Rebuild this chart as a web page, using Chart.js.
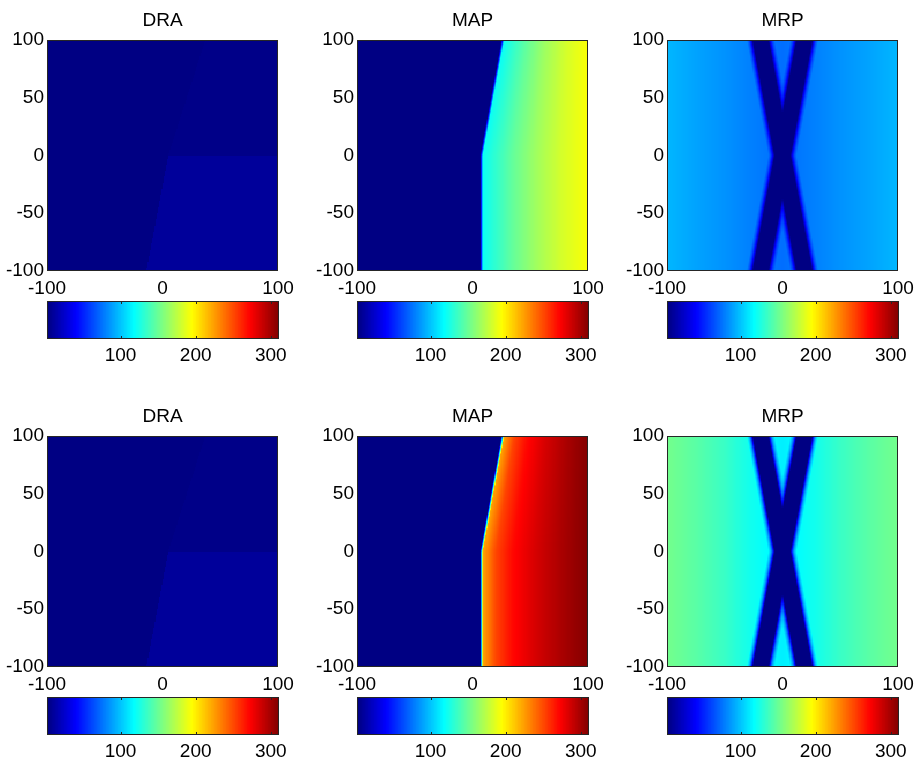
<!DOCTYPE html>
<html>
<head>
<meta charset="utf-8">
<script src="https://cdn.jsdelivr.net/npm/chart.js@4.4.1/dist/chart.umd.min.js"></script>
<style>
  html, body { margin: 0; padding: 0; background: #fff; }
  #fig { position: relative; width: 921px; height: 764px; overflow: hidden; }
  #fig canvas { position: absolute; }
</style>
</head>
<body>
<div id="fig"></div>
<script>
// ---- values ----
const panelTitles = ['DRA', 'MAP', 'MRP'];
const yTickValues = [-100, -50, 0, 50, 100];
const xTickValues = [-100, 0, 100];
const colorbarTicks = [100, 200, 300];
const colorLimits = [2, 311];

// DRA: three nearly flat dark regions split by a kinked edge
const draEdgeY = [-100, 0, 100];
const draEdgeX = [-14, 5, 37];
const draLeft = [3, 3];          // [top row, bottom row]
const draUpperRight = [4.5, 4.5];
const draLowerRight = [10, 10];

// MAP: flat left part, ramp to the right of a kinked edge
const mapEdgeY = [-100, 0, 100];
const mapEdgeX = [6.5, 6.5, 25];
const mapLeft = [3, 3];
const mapEdgeRamp = 2.5;         // units over which the edge rises
const mapU = [0, 0.05, 0.15, 0.3, 0.5, 0.75, 1];   // share of way from edge to x=100
const mapTopRow = [118, 123, 133, 148, 165, 182, 194];
const mapBottomRow = [215, 228, 252, 270, 284, 298, 310];

// MRP: two crossing dark bands on a background rising with |x|
const mrpBandY = [-100, 100];
const mrpBandA = [19, -19];
const mrpBandB = [-19, 19];
const mrpHalfWidth = 6.7;
const mrpBandValue = 3;
const mrpGlowDist = [0, 1, 2, 3.5, 5.5];
const mrpGlowFrac = [0, 0.3, 0.55, 0.8, 1];
const mrpAbsX = [0, 30, 50, 75, 100];
const mrpTopRow = [74, 80, 85, 90, 96];
const mrpBottomRow = [113, 124, 135, 145, 153];

// ---- layout ----
const FONT = { family: "'Liberation Sans', Arial, sans-serif", size: 19, lineHeight: '23px' };
const colLeft = [47, 357, 667];
const rowTop = [40, 436];
const plotSize = 231;
const cbGap = 261, cbHeight = 38, cbWidth = 232;
const cellW = 1, cellH = 1;

function interp(xs, ys, x) {
    if (x <= xs[0]) return ys[0];
    for (let i = 1; i < xs.length; i++) {
        if (x <= xs[i]) {
            const f = (x - xs[i - 1]) / (xs[i] - xs[i - 1]);
            return ys[i - 1] + f * (ys[i] - ys[i - 1]);
        }
    }
    return ys[ys.length - 1];
}

function jet(v) {
    const t = Math.min(1, Math.max(0, (v - colorLimits[0]) / (colorLimits[1] - colorLimits[0])));
    const c = (a) => Math.round(255 * Math.min(1, Math.max(0, a)));
    const r = c(Math.min(4 * t - 1.5, -4 * t + 4.5));
    const g = c(Math.min(4 * t - 0.5, -4 * t + 3.5));
    const b = c(Math.min(4 * t + 0.5, -4 * t + 2.5));
    return 'rgb(' + r + ',' + g + ',' + b + ')';
}

function draValue(x, y, row) {
    const xe = interp(draEdgeY, draEdgeX, y);
    if (x < xe) return draLeft[row];
    return y < 0 ? draLowerRight[row] : draUpperRight[row];
}

function mapValue(x, y, row) {
    const xe = interp(mapEdgeY, mapEdgeX, y);
    if (x < xe) return mapLeft[row];
    const prof = row === 0 ? mapTopRow : mapBottomRow;
    const p = interp(mapU, prof, (x - xe) / (100 - xe));
    const r = Math.min(1, (x - xe) / mapEdgeRamp);
    return mapLeft[row] + (p - mapLeft[row]) * r;
}

function mrpValue(x, y, row) {
    const ca = interp(mrpBandY, mrpBandA, y);
    const cb = interp(mrpBandY, mrpBandB, y);
    const d = Math.min(Math.abs(x - ca), Math.abs(x - cb)) - mrpHalfWidth;
    if (d <= 0) return mrpBandValue;
    const bg = interp(mrpAbsX, row === 0 ? mrpTopRow : mrpBottomRow, Math.abs(x));
    return mrpBandValue + (bg - mrpBandValue) * interp(mrpGlowDist, mrpGlowFrac, d);
}

const fields = [draValue, mapValue, mrpValue];

function buildCells(col, row) {
    const out = [];
    for (let x0 = -100; x0 < 100; x0 += cellW) {
        for (let y0 = -100; y0 < 100; y0 += cellH) {
            const cx = x0 + cellW / 2, cy = y0 + cellH / 2;
            out.push({ x: cx, y: cy, v: fields[col](cx, cy, row) });
        }
    }
    return out;
}

// draws every cell through the chart's own x/y scales
const cellPlugin = {
    id: 'cells',
    beforeDatasetsDraw(chart, args, opts) {
        const { ctx, chartArea: a, scales: { x, y } } = chart;
        ctx.save();
        ctx.beginPath();
        ctx.rect(a.left, a.top, a.width, a.height);
        ctx.clip();
        chart.data.datasets[0].data.forEach(c => {
            const x0 = Math.round(x.getPixelForValue(c.x - opts.w / 2));
            const x1 = Math.round(x.getPixelForValue(c.x + opts.w / 2));
            const y0 = Math.round(y.getPixelForValue(c.y + opts.h / 2));
            const y1 = Math.round(y.getPixelForValue(c.y - opts.h / 2));
            ctx.fillStyle = jet(c.v);
            ctx.fillRect(x0, y0, x1 - x0, y1 - y0);
        });
        ctx.restore();
    }
};

const framePlugin = {
    id: 'frame',
    afterDraw(chart, args, opts) {
        const { ctx, chartArea: a } = chart;
        ctx.save();
        ctx.strokeStyle = '#262626';
        ctx.lineWidth = 1;
        ctx.strokeRect(Math.round(a.left) + 0.5, Math.round(a.top) + 0.5,
            Math.round(a.width) - 1, Math.round(a.height) - 1);
        if (opts.ticks) {
            opts.ticks.forEach(v => {
                const px = Math.round(chart.scales.x.getPixelForValue(v)) + 0.5;
                ctx.beginPath();
                ctx.moveTo(px, a.top); ctx.lineTo(px, a.top + 3);
                ctx.moveTo(px, a.bottom); ctx.lineTo(px, a.bottom - 3);
                ctx.stroke();
            });
        }
        ctx.restore();
    }
};

function addCanvas(left, top, w, h) {
    const cv = document.createElement('canvas');
    cv.width = w; cv.height = h;
    cv.style.left = left + 'px'; cv.style.top = top + 'px';
    cv.style.width = w + 'px'; cv.style.height = h + 'px';
    document.getElementById('fig').appendChild(cv);
    return cv;
}

const base = {
    responsive: false,
    devicePixelRatio: 1,
    animation: false,
    events: []
};

function drawHeatmap(row, col) {
    const yAxisW = 47, titleH = 36, xAxisH = 32, padR = 26;
    const cv = addCanvas(colLeft[col] - yAxisW, rowTop[row] - titleH,
        yAxisW + plotSize + padR, titleH + plotSize + xAxisH + 2);
    new Chart(cv, {
        type: 'scatter',
        data: { datasets: [{ data: buildCells(col, row), pointRadius: 0, pointHoverRadius: 0 }] },
        options: Object.assign({}, base, {
            layout: { padding: { left: 0, top: 0, right: padR, bottom: 2 } },
            plugins: {
                legend: { display: false },
                tooltip: { enabled: false },
                title: {
                    display: true, text: panelTitles[col], fullSize: false, color: '#000',
                    font: Object.assign({}, FONT, { weight: 'normal' }),
                    padding: { top: 5, bottom: 8 }
                },
                cells: { w: cellW, h: cellH },
                frame: {}
            },
            scales: {
                x: {
                    type: 'linear', min: -100, max: 100,
                    grid: { display: false, drawTicks: false }, border: { display: false },
                    ticks: { color: '#000', font: FONT, padding: 6, maxRotation: 0, autoSkip: false },
                    afterBuildTicks: s => { s.ticks = xTickValues.map(v => ({ value: v })); },
                    afterFit: s => { s.height = xAxisH; }
                },
                y: {
                    type: 'linear', min: -100, max: 100,
                    grid: { display: false, drawTicks: false }, border: { display: false },
                    ticks: { color: '#000', font: FONT, padding: 3, autoSkip: false },
                    afterBuildTicks: s => { s.ticks = yTickValues.map(v => ({ value: v })); },
                    afterFit: s => { s.width = yAxisW; }
                }
            }
        }),
        plugins: [cellPlugin, framePlugin]
    });
}

function drawColorbar(row, col) {
    const xAxisH = 32, padR = 26;
    const cv = addCanvas(colLeft[col], rowTop[row] + cbGap, cbWidth + padR, cbHeight + xAxisH + 2);
    const levels = [];
    for (let v = colorLimits[0]; v < colorLimits[1]; v += 1) levels.push({ x: v + 0.5, y: 0.5, v: v + 0.5 });
    new Chart(cv, {
        type: 'scatter',
        data: { datasets: [{ data: levels, pointRadius: 0, pointHoverRadius: 0 }] },
        options: Object.assign({}, base, {
            layout: { padding: { left: 0, top: 0, right: padR, bottom: 2 } },
            plugins: {
                legend: { display: false },
                tooltip: { enabled: false },
                cells: { w: 1, h: 1 },
                frame: { ticks: colorbarTicks }
            },
            scales: {
                x: {
                    type: 'linear', min: colorLimits[0], max: colorLimits[1],
                    grid: { display: false, drawTicks: false }, border: { display: false },
                    ticks: { color: '#000', font: FONT, padding: 5, maxRotation: 0, autoSkip: false },
                    afterBuildTicks: s => { s.ticks = colorbarTicks.map(v => ({ value: v })); },
                    afterFit: s => { s.height = xAxisH; }
                },
                y: { type: 'linear', min: 0, max: 1, display: false }
            }
        }),
        plugins: [cellPlugin, framePlugin]
    });
}

for (let row = 0; row < 2; row++) {
    for (let col = 0; col < 3; col++) {
        drawHeatmap(row, col);
        drawColorbar(row, col);
    }
}
</script>
</body>
</html>
